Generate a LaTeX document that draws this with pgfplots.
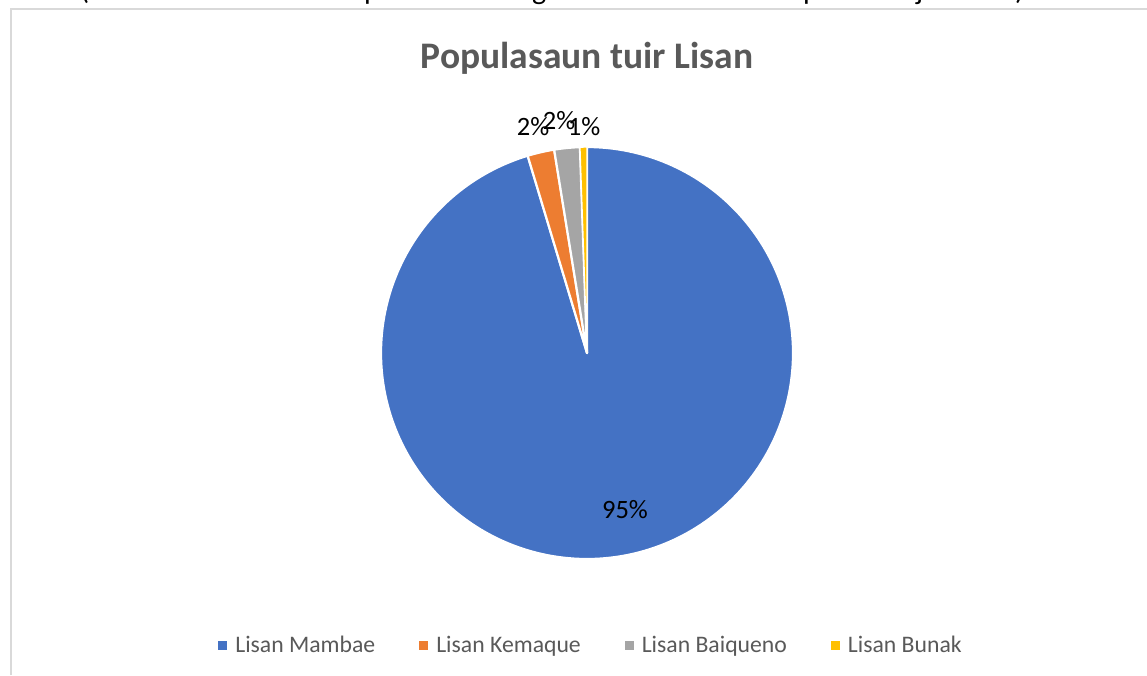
\documentclass[border=0pt]{standalone}
\usepackage{fontspec}
\setmainfont{Carlito}
\usepackage{pgfplots}
\usepackage{pgfplotstable}
\pgfplotsset{compat=1.18}
\definecolor{cMambae}{HTML}{4472C4}
\definecolor{cKemaque}{HTML}{ED7D31}
\definecolor{cBaiqueno}{HTML}{A5A5A5}
\definecolor{cBunak}{HTML}{FFC000}
\definecolor{framegray}{HTML}{D9D9D9}
\definecolor{txtgray}{HTML}{595959}

% share of each language (percent)
\pgfplotstableread{
name value
Mambae 95.35
Kemaque 2.10
Baiqueno 2.00
Bunak 0.55
}\langtable

\begin{document}%
\begin{tikzpicture}[x=1pt,y=1pt]
\pgfplotstablegetelem{0}{value}\of\langtable \pgfmathsetmacro\va{\pgfplotsretval}
\pgfplotstablegetelem{1}{value}\of\langtable \pgfmathsetmacro\vb{\pgfplotsretval}
\pgfplotstablegetelem{2}{value}\of\langtable \pgfmathsetmacro\vc{\pgfplotsretval}
\pgfplotstablegetelem{3}{value}\of\langtable \pgfmathsetmacro\vd{\pgfplotsretval}
\pgfmathsetmacro\aA{3.6*\va}
\pgfmathsetmacro\aB{\aA+3.6*\vb}
\pgfmathsetmacro\aC{\aB+3.6*\vc}
\pgfmathsetmacro\aD{\aC+3.6*\vd}
\begin{axis}[
  at={(0,0)}, anchor=north west,
  width=1147pt, height=675pt, scale only axis,
  xmin=0, xmax=1147, ymin=0, ymax=675, y dir=reverse,
  hide axis, clip=false,
  legend columns=4,
  legend style={at={(axis cs:590,645)}, anchor=center, draw=none, fill=none,
    font=\fontsize{23.7}{28}\selectfont, text=txtgray,
    nodes={inner xsep=0pt, inner ysep=2pt},
    /tikz/every odd column/.append style={column sep=8pt},
    /tikz/every even column/.append style={column sep=44pt}},
  legend cell align=left,
  legend image code/.code={\fill[#1, draw=none] (0pt,-4.5pt) rectangle (9pt,4.5pt);},
]
\addplot[fill=cMambae, draw=white, line width=2.2pt, line join=round, samples=240, domain=0:\aA, variable=\t]
  ({587+206*sin(\t)},{353-206*cos(\t)}) -- (axis cs:587,353) -- cycle;
\addlegendentry{Lisan Mambae}
\addplot[fill=cKemaque, draw=white, line width=2.2pt, line join=round, samples=20, domain=\aA:\aB, variable=\t]
  ({587+206*sin(\t)},{353-206*cos(\t)}) -- (axis cs:587,353) -- cycle;
\addlegendentry{Lisan Kemaque}
\addplot[fill=cBaiqueno, draw=white, line width=2.2pt, line join=round, samples=20, domain=\aB:\aC, variable=\t]
  ({587+206*sin(\t)},{353-206*cos(\t)}) -- (axis cs:587,353) -- cycle;
\addlegendentry{Lisan Baiqueno}
\addplot[fill=cBunak, draw=white, line width=1.4pt, line join=round, samples=10, domain=\aC:\aD, variable=\t]
  ({587+206*sin(\t)},{353-206*cos(\t)}) -- (axis cs:587,353) -- cycle;
\addlegendentry{Lisan Bunak}

\node[anchor=base, font=\bfseries\fontsize{37.5}{40}\selectfont, text=txtgray] at (axis cs:587,68) {Populasaun tuir Lisan};
\node[font=\fontsize{26.5}{30}\selectfont] at (axis cs:625,510) {95\%};
\node[font=\fontsize{26.5}{30}\selectfont] at (axis cs:533,127) {2\%};
\node[font=\fontsize{26.5}{30}\selectfont] at (axis cs:559,121) {2\%};
\node[font=\fontsize{26.5}{30}\selectfont] at (axis cs:584,127) {1\%};
\end{axis}
% chart frame
\draw[framegray, line width=1.7pt] (10.8,-675) -- (10.8,-9.2) -- (1147,-9.2);
% descenders of the text line above the chart (cut off)
\begin{scope}
\clip (0,0) rectangle (1147,-675);
\foreach \xx/\ch in {80/(, 364/p, 532/g, 803/p, 916/j, 1015/)}
  \node[anchor=base west, inner sep=0pt, font=\fontsize{30}{34}\selectfont] at (\xx,1) {\ch};
\end{scope}
\pgfresetboundingbox
\useasboundingbox (0,0) rectangle (1147,-675);
\end{tikzpicture}%
\end{document}
